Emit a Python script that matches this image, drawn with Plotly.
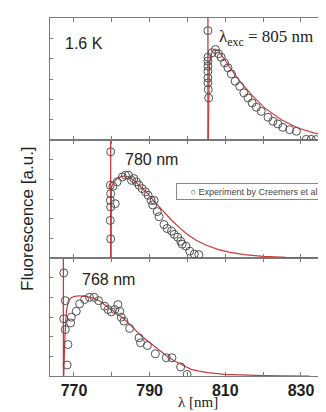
import plotly.graph_objects as go

# ---------------- data ----------------
tick_vals = [770, 790, 810, 830]
tick_text = ["770", "790", "810", "830"]
minor_tick_vals = [780, 800, 820]

# top panel (excitation 805 nm)
exc_top = 805.4
top_exp_x = [805.4, 805.4, 805.4, 805.4, 805.4, 805.4, 805.4, 805.5, 805.6,
             806.5, 807.4, 808.2, 808.9, 809.8, 810.7, 811.6, 812.6, 813.8,
             814.9, 816.0, 817.1, 818.2, 819.5, 821.3, 822.6, 823.9, 825.2,
             827.0, 828.8, 831.4, 832.7, 834.0]
top_exp_y = [5.38, 4.07, 3.88, 3.63, 3.38, 3.05, 2.81, 2.48, 2.07,
             4.29, 4.45, 4.24, 4.07, 3.79, 3.55, 3.25, 2.89, 2.64,
             2.32, 2.07, 1.82, 1.61, 1.41, 1.12, 0.92, 0.79, 0.62,
             0.51, 0.43, 0.03, 0.03, 0.02]
top_fit_x = [805.5, 805.6, 805.8, 806.2, 806.7, 807.3, 808.1, 809.8, 811.6,
             814.2, 816.9, 820.4, 824.8, 829.2, 833.6, 838.7]
top_fit_y = [0.0, 2.5, 3.8, 4.2, 4.38, 4.47, 4.40, 3.96, 3.46,
             2.81, 2.23, 1.58, 1.00, 0.59, 0.34, 0.18]

# middle panel (excitation 780 nm)
exc_mid = 779.7
mid_exp_x = [779.7, 779.6, 779.7, 779.6, 779.7, 779.6, 779.7, 780.3, 780.9,
             781.4, 782.8, 783.6, 784.4, 785.2, 785.8, 786.5, 787.2, 788.0,
             788.9, 789.6, 790.4, 791.2, 790.8, 792.0, 792.5, 793.8, 794.6,
             795.8, 796.5, 797.4, 798.2, 798.6, 799.6, 800.6, 801.8, 803.0]
mid_exp_y = [5.40, 3.70, 3.27, 2.93, 2.59, 1.91, 0.97, 3.65, 2.76,
             3.87, 4.12, 4.21, 4.21, 3.95, 4.04, 3.87, 3.70, 3.53,
             3.36, 3.19, 2.93, 2.93, 2.70, 2.36, 2.10, 1.70, 1.50,
             1.37, 1.20, 1.06, 0.85, 0.70, 0.60, 0.35, 0.20, 0.17]
mid_fit_x = [779.8, 779.9, 780.5, 781.5, 782.5, 783.5, 784.5, 786.0, 787.8,
             789.6, 791.5, 793.5, 795.8, 798.0, 800.0, 802.5, 805.0, 808.0,
             811.0, 815.0, 820.0, 826.0, 832.0, 838.7]
mid_fit_y = [0.0, 3.6, 3.85, 4.05, 4.15, 4.17, 4.12, 3.92, 3.58,
             3.25, 2.82, 2.40, 1.92, 1.52, 1.20, 0.88, 0.65, 0.44,
             0.30, 0.17, 0.08, 0.03, 0.01, 0.0]

# bottom panel (excitation 768 nm)
exc_bot = 767.2
bot_exp_x = [767.3, 767.7, 767.3, 767.7, 768.4, 768.2, 769.3, 769.1, 770.6,
             771.5, 772.8, 774.1, 775.3, 776.5, 778.1, 779.0, 779.9, 780.8,
             781.6, 782.1, 782.5, 783.2, 784.7, 787.2, 787.6, 789.4, 791.5,
             794.4, 795.9, 798.2, 799.9]
bot_exp_y = [5.24, 3.83, 2.91, 2.36, 1.60, 0.56, 2.99, 2.70, 3.29,
             3.67, 3.89, 4.00, 4.00, 3.83, 3.55, 3.38, 3.26, 3.38,
             3.63, 3.29, 2.99, 2.79, 2.42, 1.94, 1.69, 1.55, 1.13,
             0.93, 0.93, 0.46, 0.08]
bot_fit_x = [767.3, 767.6, 768.0, 768.5, 769.2, 770.2, 771.5, 772.8, 774.5,
             776.5, 778.1, 780.0, 781.8, 783.4, 785.5, 787.8, 790.0, 792.2,
             794.5, 796.6, 799.0, 801.0, 803.0, 805.4, 809.8, 815.0, 820.0,
             825.0, 832.3]
bot_fit_y = [0.0, 2.0, 3.3, 3.8, 3.98, 4.05, 4.08, 4.06, 4.00,
             3.85, 3.63, 3.35, 3.10, 2.87, 2.48, 2.03, 1.70, 1.35,
             1.02, 0.76, 0.52, 0.34, 0.25, 0.17, 0.08, 0.04, 0.02,
             0.01, 0.0]

spike_y = [0, 6]

# ---------------- styles ----------------
RED = "#cc3b3b"
CIRC = "#505050"
AX = "#7a7a7a"
X_RANGE = [763.66, 838.73]

fig = go.Figure()

panels = [
    ("x", "y", exc_bot, bot_exp_x, bot_exp_y, bot_fit_x, bot_fit_y),
    ("x2", "y2", exc_mid, mid_exp_x, mid_exp_y, mid_fit_x, mid_fit_y),
    ("x3", "y3", exc_top, top_exp_x, top_exp_y, top_fit_x, top_fit_y),
]
for xa, ya, exc, ex, ey, fx, fy in panels:
    fig.add_trace(go.Scatter(x=[exc, exc], y=spike_y, mode="lines",
                             line=dict(color=RED, width=1.3),
                             xaxis=xa, yaxis=ya, showlegend=False,
                             hoverinfo="skip"))
    fig.add_trace(go.Scatter(x=fx, y=fy, mode="lines",
                             line=dict(color=RED, width=1.2),
                             xaxis=xa, yaxis=ya, showlegend=False,
                             name="Theory"))
    fig.add_trace(go.Scatter(x=ex, y=ey, mode="markers",
                             marker=dict(symbol="circle-open", size=8,
                                         color=CIRC, line=dict(width=1)),
                             xaxis=xa, yaxis=ya, showlegend=False,
                             name="Experiment by Creemers et al"))

H = 358.0
domains = [[0, 118 / H], [118 / H, 236 / H], [236 / H, 1]]

xcommon = dict(range=X_RANGE, showline=True, linecolor=AX, linewidth=1,
               mirror="ticks", ticks="inside", ticklen=4, tickcolor=AX,
               tickvals=tick_vals, ticktext=tick_text, showgrid=False,
               zeroline=False,
               minor=dict(tickvals=minor_tick_vals, ticks="inside",
                          ticklen=4, tickcolor=AX, showgrid=False))
ycommon = dict(range=[0, 6], showline=True, linecolor=AX, linewidth=1,
               mirror=False, ticks="inside", ticklen=3, tickcolor=AX,
               tickvals=[1, 2, 3, 4, 5], showticklabels=False,
               showgrid=False, zeroline=False)

sans = "Arial, 'Liberation Sans', sans-serif"
serif = "'Times New Roman', 'Liberation Serif', serif"

fig.update_layout(
    width=326, height=412,
    margin=dict(l=42, r=0, t=10, b=44),
    paper_bgcolor="white", plot_bgcolor="white",
    showlegend=False,
    xaxis=dict(**xcommon, anchor="y", domain=[0, 1], showticklabels=True,
               tickfont=dict(family=sans, size=16,
                             color="#1e1e1e", weight="bold")),
    xaxis2=dict(**xcommon, anchor="y2", domain=[0, 1], showticklabels=False,
                matches="x"),
    xaxis3=dict(**xcommon, anchor="y3", domain=[0, 1], showticklabels=False,
                matches="x"),
    yaxis=dict(**ycommon, anchor="x", domain=domains[0]),
    yaxis2=dict(**ycommon, anchor="x2", domain=domains[1]),
    yaxis3=dict(**ycommon, anchor="x3", domain=domains[2]),
)

ann = [
    dict(text="1.6 K", x=767.1, y=4.75, xref="x3", yref="y3",
         xanchor="left", yanchor="middle", showarrow=False,
         font=dict(family=sans, size=16, color="#222")),
    dict(text="λ<sub>exc</sub> = 805 nm", x=807.8, y=5.0, xref="x3", yref="y3",
         xanchor="left", yanchor="middle", showarrow=False,
         font=dict(family=serif, size=17, color="#222")),
    dict(text="780 nm", x=783.0, y=5.0, xref="x2", yref="y2",
         xanchor="left", yanchor="middle", showarrow=False,
         font=dict(family=sans, size=16, color="#222")),
    dict(text="768 nm", x=771.6, y=4.89, xref="x", yref="y",
         xanchor="left", yanchor="middle", showarrow=False,
         font=dict(family=sans, size=16, color="#222")),
    dict(text="\u00a0\u00a0\u00a0\u00a0\u00a0○ Experiment by Creemers et al",
         x=797.0, y=3.39, xref="x2", yref="y2",
         xanchor="left", yanchor="middle", showarrow=False, align="left",
         width=170, height=13, bordercolor="#888", borderwidth=1,
         borderpad=1, bgcolor="white",
         font=dict(family=sans, size=9, color="#444")),
    dict(text="Fluorescence [a.u.]", x=-0.081, y=(368 - 210) / H,
         xref="paper", yref="paper", textangle=-90, showarrow=False,
         xanchor="center", yanchor="middle",
         font=dict(family=sans, size=17, color="#222")),
    dict(text="λ [nm]", x=(190 - 42) / 284.0, y=(368 - 394) / H,
         xref="paper", yref="paper", showarrow=False,
         xanchor="center", yanchor="middle",
         font=dict(family=serif, size=15, color="#222")),
]
fig.update_layout(annotations=ann)

fig.write_html("out.html")
